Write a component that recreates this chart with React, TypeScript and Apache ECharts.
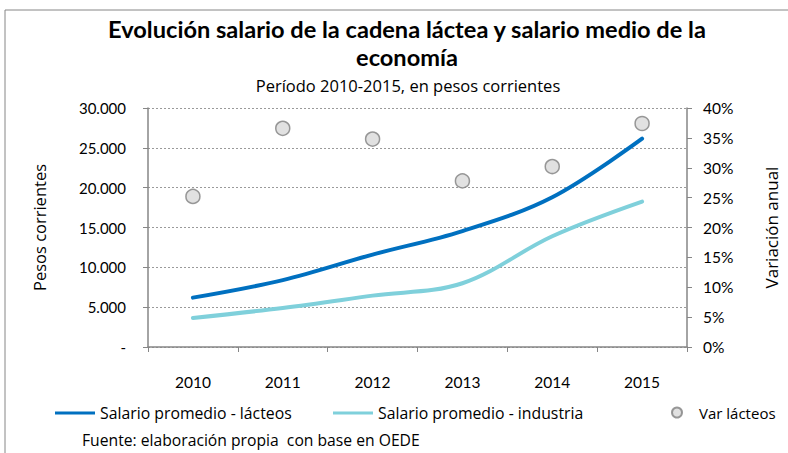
import React, { useEffect, useRef } from "react";
import * as echarts from "echarts";

const years = ["2010", "2011", "2012", "2013", "2014", "2015"];
const salarioLacteos = [6200, 8400, 11600, 14550, 18800, 26150];
const salarioIndustria = [3650, 4900, 6450, 8000, 13900, 18250];
const varLacteos = [0.252, 0.366, 0.348, 0.278, 0.302, 0.374];

const FONT = "Lato, 'Open Sans', sans-serif";
const TFONT = "'Open Sans', Lato, sans-serif";

export default function App() {
  const ref = useRef<HTMLDivElement>(null);
  useEffect(() => {
    document.body.style.margin = "0";
    const chart = echarts.init(ref.current!, null, { renderer: "svg" });
    const axisLine = { show: true, lineStyle: { color: "#868686", width: 1.5 } };
    chart.setOption({
      animation: false,
      backgroundColor: "#fff",
      textStyle: { fontFamily: FONT, color: "#000" },
      title: [
        {
          text: "Evolución salario de la cadena láctea y salario medio de la\neconomía",
          left: 407,
          textAlign: "center",
          top: 15,
          padding: 0,
          textStyle: { fontFamily: FONT, fontSize: 23.6, fontWeight: "bold", lineHeight: 28, color: "#000" },
        },
        {
          text: "Período 2010-2015, en pesos corrientes",
          left: 408,
          textAlign: "center",
          top: 77,
          padding: 0,
          textStyle: { fontFamily: TFONT, fontSize: 16.5, fontWeight: "normal", color: "#000" },
        },
        {
          text: "Fuente: elaboración propia  con base en OEDE",
          left: 82,
          top: 432,
          padding: 0,
          textStyle: { fontFamily: TFONT, fontSize: 15.7, fontWeight: "normal", color: "#000" },
        },
      ],
      grid: { left: 148, right: 97, top: 108, bottom: 106 },
      legend: [
        {
          data: ["Salario promedio - lácteos"],
          left: 50, top: 400, icon: "rect", itemWidth: 40, itemHeight: 3, itemGap: 5,
          textStyle: { fontFamily: TFONT, fontSize: 15.8, color: "#000" },
        },
        {
          data: ["Salario promedio - industria"],
          left: 328, top: 400, icon: "rect", itemWidth: 40, itemHeight: 3,
          textStyle: { fontFamily: TFONT, fontSize: 15.8, color: "#000" },
        },
        {
          data: ["Var lácteos"],
          left: 666, top: 400, icon: "circle", itemWidth: 10, itemHeight: 10, itemGap: 5,
          textStyle: { fontFamily: TFONT, fontSize: 15, color: "#000", padding: [0, 0, 0, 12] },
        },
      ],
      xAxis: {
        type: "category",
        data: years,
        boundaryGap: true,
        axisLine,
        axisTick: { show: true, length: 5, lineStyle: { color: "#868686" } },
        axisLabel: { margin: 27, fontSize: 15.5, color: "#000", fontFamily: FONT },
      },
      yAxis: [
        {
          type: "value",
          min: 0, max: 30000, interval: 5000,
          name: "Pesos corrientes",
          nameLocation: "middle",
          nameGap: 100,
          nameTextStyle: { fontSize: 16.5, color: "#000", fontFamily: TFONT },
          axisLine,
          axisTick: { show: true, length: 5, lineStyle: { color: "#868686" } },
          axisLabel: {
            margin: 22, fontSize: 15, color: "#000", fontFamily: FONT,
            formatter: (v: number) => (v === 0 ? "-" : v.toLocaleString("de-DE")),
          },
          splitLine: { show: true, lineStyle: { color: "#9a9a9a", type: [2, 2], width: 1 } },
        },
        {
          type: "value",
          min: 0, max: 0.4, interval: 0.05,
          position: "right",
          name: "Variación anual",
          nameLocation: "middle",
          nameGap: 76,
          nameRotate: 90,
          nameTextStyle: { fontSize: 17, color: "#000", fontFamily: TFONT },
          axisLine,
          axisTick: { show: true, length: 5, lineStyle: { color: "#868686" } },
          axisLabel: {
            margin: 16, fontSize: 15.5, color: "#000", fontFamily: FONT,
            formatter: (v: number) => Math.round(v * 100) + "%",
          },
          splitLine: { show: false },
        },
      ],
      series: [
        {
          name: "Salario promedio - lácteos",
          type: "line",
          data: salarioLacteos,
          smooth: 0.35,
          showSymbol: false,
          symbol: "none",
          lineStyle: { color: "#0070C0", width: 4, cap: "round" },
          itemStyle: { color: "#0070C0" },
        },
        {
          name: "Salario promedio - industria",
          type: "line",
          data: salarioIndustria,
          smooth: 0.35,
          showSymbol: false,
          symbol: "none",
          lineStyle: { color: "#7FD0DB", width: 4, cap: "round" },
          itemStyle: { color: "#7FD0DB" },
        },
        {
          name: "Var lácteos",
          type: "scatter",
          yAxisIndex: 1,
          data: varLacteos,
          symbol: "circle",
          symbolSize: 14,
          itemStyle: { color: "#D9D9D9", borderColor: "#7f7f7f", borderWidth: 1.5 },
        },
      ],
      graphic: [
        {
          type: "rect",
          shape: { x: 5, y: 10, width: 800, height: 460 },
          style: { fill: "none", stroke: "#868686", lineWidth: 1 },
          silent: true,
        },
      ],
    });
    return () => chart.dispose();
  }, []);
  return <div ref={ref} style={{ width: 788, height: 453 }} />;
}
